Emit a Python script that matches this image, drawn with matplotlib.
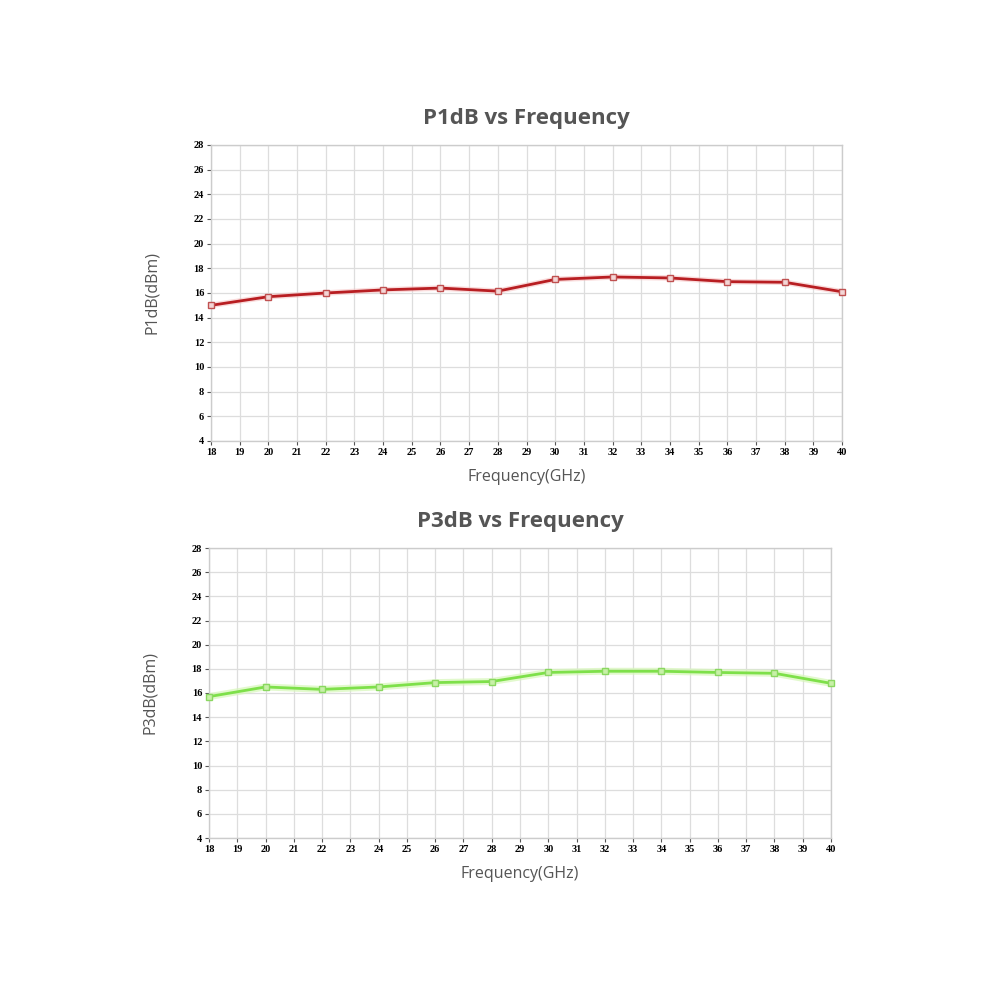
import matplotlib
matplotlib.use("Agg")
import matplotlib.pyplot as plt

freq = [18, 20, 22, 24, 26, 28, 30, 32, 34, 36, 38, 40]
p1db = [15.0, 15.7, 16.0, 16.25, 16.4, 16.15, 17.1, 17.3, 17.22, 16.92, 16.87, 16.1]
p3db = [15.7, 16.5, 16.3, 16.5, 16.86, 16.95, 17.7, 17.8, 17.8, 17.7, 17.63, 16.8]

xticks = list(range(18, 41))
yticks = list(range(4, 29, 2))

fig = plt.figure(figsize=(10, 10), dpi=100)
ax1 = fig.add_axes([0.211, 0.559, 0.631, 0.296])
ax2 = fig.add_axes([0.209, 0.162, 0.622, 0.290])


def style(ax, title, ylabel):
    ax.set_xlim(18, 40)
    ax.set_ylim(4, 28)
    ax.set_xticks(xticks)
    ax.set_yticks(yticks)
    ax.grid(True, color="#dddddd", linewidth=0.9)
    ax.set_axisbelow(True)
    for s in ax.spines.values():
        s.set_color("#cccccc")
        s.set_linewidth(1.0)
    ax.tick_params(axis="both", length=3, width=0.8, color="#555555", pad=2,
                   labelsize=7.5)
    for lab in ax.get_xticklabels() + ax.get_yticklabels():
        lab.set_fontfamily("Liberation Serif")
        lab.set_fontweight("bold")
    ax.set_title(title, fontsize=16, fontweight="bold", color="#555555",
                 family="Open Sans", pad=15)
    ax.set_xlabel("Frequency(GHz)", fontsize=11.5, color="#555555",
                  family="Open Sans", labelpad=9)
    ax.set_ylabel(ylabel, fontsize=11.5, color="#555555", family="Open Sans",
                  labelpad=24)


ax1.plot(freq, p1db, color="#f4b8b8", linewidth=4, alpha=0.5, zorder=2)
ax1.plot(freq, p1db, color="#b81e22", linewidth=2, marker="s", markersize=5,
         markerfacecolor="#f3d6d6", markeredgecolor="#c05050",
         markeredgewidth=1, zorder=3, clip_on=False)
style(ax1, "P1dB vs Frequency", "P1dB(dBm)")

ax2.plot(freq, p3db, color="#d6f7b8", linewidth=5, alpha=0.7, zorder=2)
ax2.plot(freq, p3db, color="#7ee04a", linewidth=2, marker="s", markersize=5,
         markerfacecolor="#c8f0a8", markeredgecolor="#8ad860",
         markeredgewidth=1, zorder=3, clip_on=False)
style(ax2, "P3dB vs Frequency", "P3dB(dBm)")

fig.savefig("out.png", dpi=100, facecolor="white")
